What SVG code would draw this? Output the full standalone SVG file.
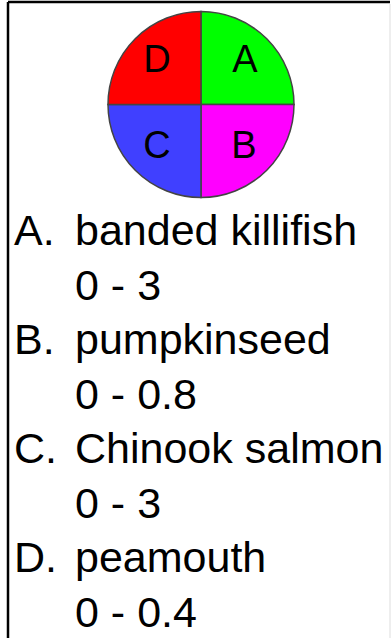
<svg xmlns="http://www.w3.org/2000/svg" width="391" height="638" viewBox="0 0 391 638">
<style>
.lbl{font-family:"Liberation Sans",Arial,sans-serif;font-size:38px;fill:#000;text-anchor:middle}
.leg{font-family:"Liberation Sans",Arial,sans-serif;font-size:43px;fill:#000}
.seg{stroke:#444;stroke-width:1.5}
</style>
<rect x="0" y="0" width="391" height="638" fill="#fff"/>
<g id="frame">
<line x1="8" y1="2" x2="390" y2="2" stroke="#000" stroke-width="2.5"/>
<line x1="8" y1="2" x2="8" y2="638" stroke="#000" stroke-width="2.5"/>
<line x1="390" y1="4" x2="390" y2="638" stroke="#ddd" stroke-width="1"/>
</g>
<g id="pie">
<path class="seg" d="M201,104.5 L201,11.5 A93,93 0 0 1 294,104.5 Z" fill="#00ff00"/>
<path class="seg" d="M201,104.5 L294,104.5 A93,93 0 0 1 201,197.5 Z" fill="#ff00ff"/>
<path class="seg" d="M201,104.5 L201,197.5 A93,93 0 0 1 108,104.5 Z" fill="#4040ff"/>
<path class="seg" d="M201,104.5 L108,104.5 A93,93 0 0 1 201,11.5 Z" fill="#ff0000"/>
<text class="lbl" x="157" y="72">D</text>
<text class="lbl" x="245" y="72">A</text>
<text class="lbl" x="157" y="158">C</text>
<text class="lbl" x="244" y="158">B</text>
</g>
<g id="legend">
<text class="leg" x="14" y="245">A.</text>
<text class="leg" x="75" y="245">banded killifish</text>
<text class="leg" x="75" y="299.5">0 - 3</text>
<text class="leg" x="14" y="354">B.</text>
<text class="leg" x="75" y="354">pumpkinseed</text>
<text class="leg" x="75" y="408.5">0 - 0.8</text>
<text class="leg" x="14" y="463">C.</text>
<text class="leg" x="75" y="463">Chinook salmon</text>
<text class="leg" x="75" y="517.5">0 - 3</text>
<text class="leg" x="14" y="572">D.</text>
<text class="leg" x="75" y="572">peamouth</text>
<text class="leg" x="75" y="626.5">0 - 0.4</text>
</g>
</svg>
